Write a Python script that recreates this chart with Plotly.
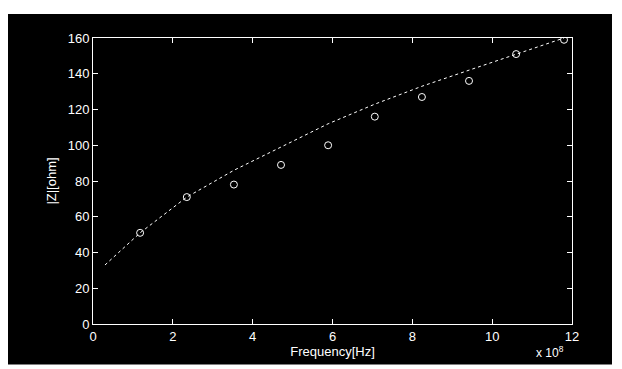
import plotly.graph_objects as go

# data (frequency in units of 1e8 Hz)
meas_freq = [1.18, 2.35, 3.53, 4.71, 5.89, 7.06, 8.24, 9.42, 10.6, 11.8]
meas_z = [51, 71, 78, 89, 100, 116, 127, 136, 151, 159]
model_freq = [0.3, 1.18, 2.35, 3.53, 4.71, 5.89, 7.06, 8.24, 9.42, 10.6, 11.8]
model_z = [33, 51, 71, 86, 99, 112, 123, 133, 142, 151, 160]
x_ticks = [0, 2, 4, 6, 8, 10, 12]
y_ticks = [0, 20, 40, 60, 80, 100, 120, 140, 160]

FONT = "Liberation Sans, Arial, sans-serif"
fig = go.Figure()
fig.add_trace(go.Scatter(x=model_freq, y=model_z, mode="lines",
                         line=dict(color="white", width=1, dash="dot"),
                         showlegend=False))
fig.add_trace(go.Scatter(x=meas_freq, y=meas_z, mode="markers",
                         marker=dict(symbol="circle-open", size=7,
                                     color="white", line=dict(width=1)),
                         showlegend=False))

axis_common = dict(showline=True, linecolor="white", linewidth=1,
                   mirror="ticks", ticks="inside", ticklen=5,
                   tickcolor="white", showgrid=False, zeroline=False,
                   tickfont=dict(color="white", size=13, family=FONT))
fig.update_xaxes(range=[0, 12], tickvals=x_ticks,
                 title=dict(text="Frequency[Hz]", standoff=0,
                            font=dict(color="white", size=13, family=FONT)),
                 **axis_common)
fig.update_yaxes(range=[0, 160], tickvals=y_ticks,
                 title=dict(text="|Z|[ohm]", standoff=8,
                            font=dict(color="white", size=13, family=FONT)),
                 **axis_common)

fig.add_shape(type="rect", xref="paper", yref="paper",
              x0=-0.1775, x1=1.0835, y0=-0.142, y1=1.084,
              fillcolor="black", line=dict(width=0), layer="below")
fig.add_annotation(text="x 10<sup>8</sup>", xref="paper", yref="paper",
                   x=0.955, y=-0.098, showarrow=False, xanchor="center",
                   yanchor="middle",
                   font=dict(color="white", size=12, family=FONT))

fig.update_layout(width=614, height=361,
                  margin=dict(l=85, r=50, t=30, b=45),
                  paper_bgcolor="white", plot_bgcolor="black",
                  font=dict(family=FONT, color="white"))
fig.write_html("out.html")
